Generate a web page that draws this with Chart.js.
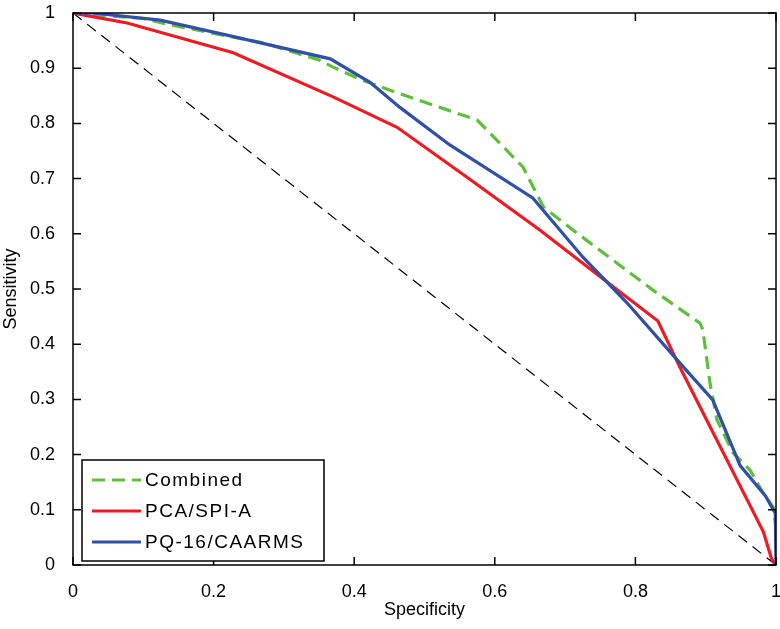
<!DOCTYPE html>
<html>
<head>
<meta charset="utf-8">
<script src="https://cdn.jsdelivr.net/npm/chart.js@4.4.1/dist/chart.umd.min.js"></script>
<style>
  body { margin: 0; background: #fff; }
</style>
</head>
<body>
<canvas id="rocChart" width="780" height="629"></canvas>
<script>
// ROC curves: x = specificity, y = sensitivity
const seriesLabels = ['Combined', 'PCA/SPI-A', 'PQ-16/CAARMS'];

const combinedX = [0, 0.1, 0.14, 0.27, 0.35, 0.37, 0.41, 0.46, 0.575, 0.64, 0.669, 0.711, 0.825, 0.892, 0.896, 0.906, 0.916, 0.939, 0.963, 0.982, 0.996, 1, 1];
const combinedY = [1, 0.99, 0.978, 0.946, 0.915, 0.902, 0.879, 0.856, 0.806, 0.721, 0.649, 0.607, 0.498, 0.438, 0.426, 0.33, 0.263, 0.203, 0.172, 0.13, 0.105, 0.069, 0];

const pcaX = [0, 0.077, 0.228, 0.37, 0.461, 0.56, 0.664, 0.75, 0.832, 0.863, 0.916, 0.963, 0.982, 0.994, 1];
const pcaY = [1, 0.982, 0.928, 0.848, 0.793, 0.703, 0.607, 0.522, 0.442, 0.359, 0.226, 0.108, 0.06, 0.01, 0];

const pqX = [0, 0.028, 0.124, 0.219, 0.366, 0.422, 0.465, 0.536, 0.654, 0.725, 0.788, 0.859, 0.91, 0.949, 0.985, 0.999, 1];
const pqY = [1, 1, 0.987, 0.96, 0.917, 0.875, 0.829, 0.761, 0.665, 0.558, 0.475, 0.372, 0.299, 0.18, 0.125, 0.094, 0];

const chanceX = [0, 1];
const chanceY = [1, 0];

const xTicks = [0, 0.2, 0.4, 0.6, 0.8, 1];
const yTicks = [0, 0.1, 0.2, 0.3, 0.4, 0.5, 0.6, 0.7, 0.8, 0.9, 1];

const toPoints = (xs, ys) => xs.map((x, i) => ({ x: x, y: ys[i] }));

const FONT = 'Liberation Sans, Arial, sans-serif';

// matlab style box with inward ticks + legend in lower left
const matlabFrame = {
  id: 'matlabFrame',
  beforeInit(chart) {
    chart.ctx.letterSpacing = '1.5px';
  },
  afterDatasetsDraw(chart) {
    const ctx = chart.ctx;
    const a = chart.chartArea;
    const xs = chart.scales.x, ys = chart.scales.y;
    ctx.save();
    ctx.strokeStyle = '#000';
    ctx.lineWidth = 1.5;
    ctx.setLineDash([]);
    ctx.strokeRect(a.left, a.top, a.right - a.left, a.bottom - a.top);
    ctx.beginPath();
    xTicks.forEach(v => {
      const px = xs.getPixelForValue(v);
      ctx.moveTo(px, a.bottom); ctx.lineTo(px, a.bottom - 8);
      ctx.moveTo(px, a.top); ctx.lineTo(px, a.top + 8);
    });
    yTicks.forEach(v => {
      const py = ys.getPixelForValue(v);
      ctx.moveTo(a.left, py); ctx.lineTo(a.left + 8, py);
      ctx.moveTo(a.right, py); ctx.lineTo(a.right - 8, py);
    });
    ctx.stroke();

    // legend
    const bx = 82, by = 460, bw = 242, bh = 101;
    ctx.fillStyle = '#fff';
    ctx.fillRect(bx, by, bw, bh);
    ctx.lineWidth = 1.5;
    ctx.strokeRect(bx, by, bw, bh);
    const rows = [480, 511, 542];
    ctx.font = '19px ' + FONT;
    ctx.textBaseline = 'middle';
    ctx.letterSpacing = '1.5px';
    seriesLabels.forEach((lab, i) => {
      const ds = chart.data.datasets[i];
      ctx.strokeStyle = ds.borderColor;
      ctx.lineWidth = ds.borderWidth;
      ctx.setLineDash(ds.borderDash || []);
      ctx.beginPath();
      ctx.moveTo(92, rows[i]);
      ctx.lineTo(141, rows[i]);
      ctx.stroke();
      ctx.fillStyle = '#000';
      ctx.fillText(lab, 145, rows[i] + 1);
    });
    ctx.restore();
  }
};

new Chart(document.getElementById('rocChart'), {
  type: 'scatter',
  data: {
    datasets: [
      {
        label: seriesLabels[0],
        data: toPoints(combinedX, combinedY),
        showLine: true,
        borderColor: '#5fbf3c',
        borderWidth: 3.2,
        borderDash: [13, 7],
        pointRadius: 0,
        order: 3
      },
      {
        label: seriesLabels[1],
        data: toPoints(pcaX, pcaY),
        showLine: true,
        borderColor: '#ec1c24',
        borderWidth: 3.2,
        pointRadius: 0,
        order: 2
      },
      {
        label: seriesLabels[2],
        data: toPoints(pqX, pqY),
        showLine: true,
        borderColor: '#3050a6',
        borderWidth: 3.2,
        pointRadius: 0,
        order: 1
      },
      {
        label: 'chance',
        data: toPoints(chanceX, chanceY),
        showLine: true,
        borderColor: '#000',
        borderWidth: 1.2,
        borderDash: [11, 7],
        pointRadius: 0,
        order: 4
      }
    ]
  },
  options: {
    responsive: false,
    animation: false,
    layout: { padding: { top: 13, right: 4, left: 0, bottom: 0 } },
    plugins: {
      legend: { display: false },
      tooltip: { enabled: false }
    },
    scales: {
      x: {
        type: 'linear',
        min: 0, max: 1,
        grid: { display: false },
        border: { display: false },
        afterFit: s => { s.height = 64; s.paddingLeft = 0; s.paddingRight = 0; },
        afterBuildTicks: s => { s.ticks = xTicks.map(v => ({ value: v })); },
        ticks: {
          padding: 8,
          color: '#000',
          font: { family: FONT, size: 18 },
          maxRotation: 0,
          callback: v => String(+v.toFixed(1))
        },
        title: {
          display: true,
          text: 'Specificity',
          color: '#000',
          font: { family: FONT, size: 18 },
          padding: { top: 2, bottom: 8 }
        }
      },
      y: {
        type: 'linear',
        min: 0, max: 1,
        grid: { display: false },
        border: { display: false },
        afterFit: s => { s.width = 73; s.paddingTop = 0; s.paddingBottom = 0; },
        afterBuildTicks: s => { s.ticks = yTicks.map(v => ({ value: v })); },
        ticks: {
          padding: 10,
          color: '#000',
          font: { family: FONT, size: 18 },
          callback: v => String(+v.toFixed(1))
        },
        title: {
          display: true,
          text: 'Sensitivity',
          color: '#000',
          font: { family: FONT, size: 18 },
          padding: { top: 0, bottom: 0 }
        }
      }
    }
  },
  plugins: [matlabFrame]
});
</script>
</body>
</html>
